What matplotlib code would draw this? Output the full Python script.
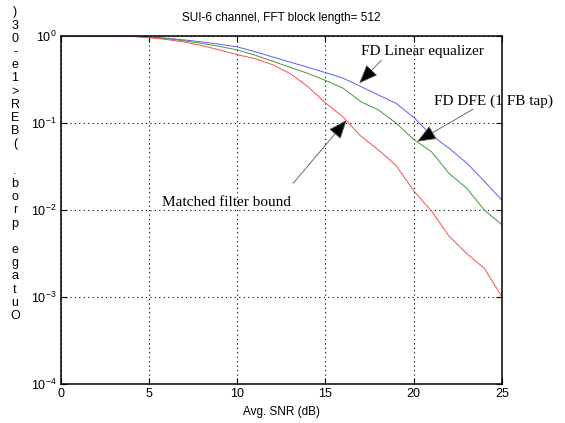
import matplotlib
matplotlib.use('Agg')
import matplotlib.pyplot as plt
from matplotlib.ticker import FixedLocator, NullLocator, LogFormatterSciNotation

plt.rcParams['font.family'] = ['Liberation Sans', 'DejaVu Sans']
plt.rcParams['mathtext.fontset'] = 'custom'
plt.rcParams['mathtext.rm'] = 'Liberation Sans'
plt.rcParams['mathtext.it'] = 'Liberation Sans'

snr_db = list(range(0, 26))

lin_eq = [1.0, 1.0, 1.0, 1.0, 0.995, 0.977, 0.944, 0.902, 0.855, 0.804,
          0.750, 0.661, 0.575, 0.501, 0.437, 0.380, 0.327, 0.263, 0.210, 0.168,
          0.116, 0.0724, 0.0513, 0.0347, 0.0214, 0.0129]
dfe = [1.0, 1.0, 1.0, 1.0, 0.993, 0.973, 0.933, 0.881, 0.822, 0.759,
       0.692, 0.603, 0.513, 0.437, 0.372, 0.309, 0.251, 0.176, 0.141, 0.100,
       0.0646, 0.0468, 0.0263, 0.0178, 0.0100, 0.00676]
mfb = [1.0, 1.0, 1.0, 1.0, 0.989, 0.955, 0.912, 0.851, 0.776, 0.692,
       0.610, 0.550, 0.468, 0.370, 0.262, 0.170, 0.117, 0.0708, 0.0490, 0.0324,
       0.0166, 0.00977, 0.00501, 0.00316, 0.00214, 0.00100]

title = 'SUI-6 channel, FFT block length= 512'
xlabel = 'Avg. SNR (dB)'
ylabel = 'Outage prob. (BER>1e-03)'

# label text, arrow tail, arrow tip (dB, prob)
notes = [
    ('FD Linear equalizer', (17.0, 0.66), (18.18, 0.53), (16.91, 0.286)),
    ('FD DFE (1 FB tap)', (21.14, 0.18), (23.36, 0.144), (20.19, 0.061)),
    ('Matched filter bound', (5.72, 0.0121), (13.17, 0.0203), (16.2, 0.108)),
]

W, H = 565, 423
fig = plt.figure(figsize=(W / 100, H / 100), dpi=100)
ax = fig.add_axes([60.7 / W, 1 - 384 / H, (502 - 60.7) / W, (384 - 36) / H])

ax.plot(snr_db, lin_eq, color='#5c5cff', lw=0.7)
ax.plot(snr_db, dfe, color='#3f9a3f', lw=0.7)
ax.plot(snr_db, mfb, color='#ff4c4c', lw=0.7)

ax.set_yscale('log')
ax.set_xlim(0, 25)
ax.set_ylim(1e-4, 1)
ax.xaxis.set_major_locator(FixedLocator([0, 5, 10, 15, 20, 25]))
ax.yaxis.set_major_locator(FixedLocator([1e-4, 1e-3, 1e-2, 1e-1, 1]))
ax.yaxis.set_major_formatter(LogFormatterSciNotation())
ax.yaxis.set_minor_locator(NullLocator())
ax.tick_params(direction='in', length=4, width=0.8, labelsize=9,
               top=True, right=True, pad=3)
ax.grid(True, linestyle=(0, (1, 3)), color='black', lw=0.8)
for s in ax.spines.values():
    s.set_linewidth(1.1)

ax.set_title(title, fontsize=8.5, pad=11)
ax.set_xlabel(xlabel, fontsize=8.5, labelpad=4)

# stacked y label, read bottom to top
for i, ch in enumerate(ylabel):
    fig.text(15 / W, 1 - (316 - 13.2 * i) / H, ch, fontsize=9,
             ha='center', va='center')

for txt, tpos, tail, tip in notes:
    ax.text(tpos[0], tpos[1], txt, fontsize=11, family='Liberation Serif',
            ha='left', va='center', clip_on=False)
    ax.annotate('', xy=tip, xytext=tail,
                arrowprops=dict(arrowstyle='-|>,head_length=0.6,head_width=0.24',
                                fc='black', ec='#555555', lw=0.6,
                                mutation_scale=20, shrinkA=0, shrinkB=0))

fig.savefig('out.png', dpi=100)
